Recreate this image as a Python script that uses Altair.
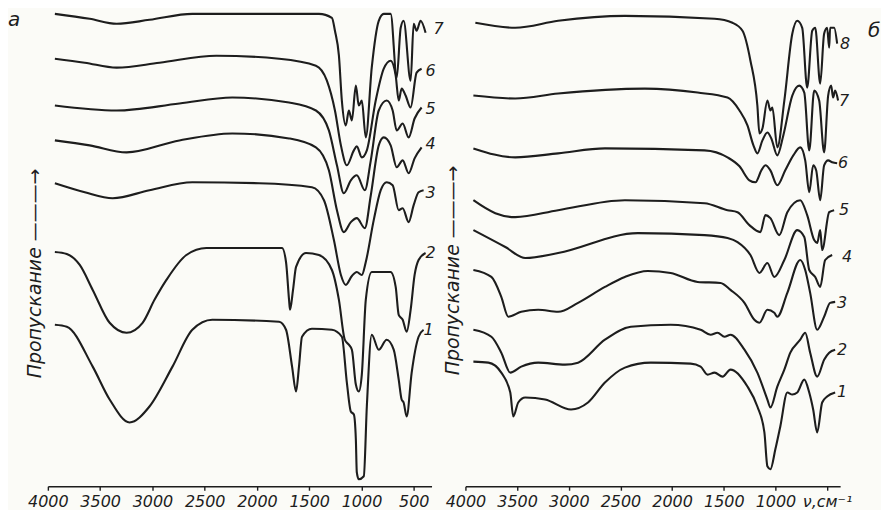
import altair as alt
import pandas as pd

INK = "#1d1d1d"
FONT = "DejaVu Sans"
XTICKS = [4000, 3500, 3000, 2500, 2000, 1500, 1000, 500]
YMAX = 479

# ---------- panel а : (wavenumber cm-1, transmittance level, arbitrary units) ----------
A7 = [(3933, 474), (3600, 469), (3342, 464), (3028, 468), (2618, 474), (1788, 474), (1407, 474),
      (1283, 470), (1254, 457), (1216, 432), (1188, 387), (1150, 362), (1121, 377), (1092, 367),
      (1054, 402), (1026, 382), (997, 387), (959, 350), (902, 420), (835, 467), (787, 474),
      (721, 474), (663, 410), (625, 460), (597, 467), (530, 407), (501, 464), (473, 457),
      (435, 467), (387, 455)]
A6 = [(3933, 429), (3647, 425), (3342, 420), (2932, 425), (2389, 432), (1788, 429), (1436, 422),
      (1331, 407), (1254, 377), (1197, 342), (1140, 322), (1073, 337), (1045, 341), (997, 330),
      (949, 337), (864, 387), (787, 419), (721, 427), (673, 412), (644, 387), (616, 399),
      (578, 392), (530, 380), (473, 415), (425, 419)]
A5 = [(3933, 382), (3342, 377), (2742, 384), (2236, 390), (1693, 385), (1436, 377), (1312, 357),
      (1235, 322), (1169, 294), (1102, 307), (1045, 312), (968, 297), (911, 327), (835, 377),
      (759, 387), (702, 377), (663, 357), (606, 364), (549, 350), (492, 369), (425, 380)]
A4 = [(3933, 347), (3600, 342), (3247, 335), (2742, 347), (2236, 354), (1693, 349), (1436, 340),
      (1312, 317), (1235, 277), (1169, 255), (1102, 265), (1045, 269), (968, 259), (911, 292),
      (835, 342), (787, 350), (721, 342), (663, 320), (606, 327), (549, 314), (492, 329), (425, 340)]
A3 = [(3933, 304), (3647, 295), (3380, 289), (3028, 297), (2618, 305), (1979, 304), (1474, 300),
      (1359, 287), (1264, 247), (1197, 212), (1150, 202), (1092, 211), (1045, 215), (997, 212),
      (959, 225), (883, 267), (816, 297), (759, 305), (702, 302), (644, 277), (606, 279),
      (549, 265), (501, 282), (454, 295), (406, 297)]
A2 = [(3933, 235), (3819, 233), (3695, 222), (3571, 197), (3409, 164), (3247, 154), (3094, 164),
      (2980, 187), (2866, 207), (2675, 232), (2484, 239), (1760, 239), (1722, 225), (1693, 187),
      (1684, 177), (1655, 197), (1626, 220), (1531, 234), (1407, 232), (1283, 217), (1216, 187),
      (1160, 147), (1121, 142), (1092, 137), (1054, 102), (1026, 95), (997, 112), (959, 187),
      (902, 215), (787, 215), (721, 215), (673, 200), (644, 172), (606, 167), (568, 155),
      (530, 177), (492, 212), (454, 227), (387, 234)]
A1 = [(3933, 162), (3819, 160), (3571, 120), (3409, 87), (3218, 64), (3028, 80), (2808, 120),
      (2618, 157), (2427, 167), (1788, 165), (1722, 157), (1664, 120), (1626, 95), (1598, 120),
      (1569, 150), (1474, 158), (1283, 157), (1188, 150), (1140, 104), (1102, 75), (1073, 72),
      (1054, 47), (1045, 14), (1026, 7), (978, 10), (949, 80), (902, 152), (835, 137), (759, 147),
      (692, 137), (644, 107), (616, 87), (597, 84), (568, 70), (520, 114), (454, 150), (406, 157)]
A_LABELS = ["1", "2", "3", "4", "5", "6", "7"]
A_LABEL_NU = [358, 339, 339, 339, 339, 339, 263]
A_LABEL_V = [157, 234, 294, 343, 379, 417, 459]

# ---------- panel б ----------
B8 = [(3904, 465), (3518, 460), (3103, 467), (2457, 472), (1589, 469), (1416, 465), (1319, 457),
      (1242, 427), (1175, 382), (1155, 354), (1126, 359), (1078, 387), (1049, 377), (1030, 380),
      (982, 340), (914, 387), (837, 454), (789, 467), (741, 460), (693, 400), (644, 457),
      (615, 460), (567, 404), (529, 454), (500, 460), (480, 440), (471, 460), (432, 460), (403, 444)]
B7 = [(3923, 392), (3518, 389), (3103, 394), (2264, 399), (1753, 395), (1464, 390), (1348, 377),
      (1271, 362), (1213, 342), (1175, 334), (1126, 347), (1078, 355), (1040, 349), (982, 332),
      (924, 352), (837, 392), (770, 402), (721, 395), (673, 337), (625, 397), (577, 387),
      (529, 335), (490, 392), (461, 402), (442, 390), (422, 397), (394, 387)]
B6 = [(3923, 339), (3518, 330), (3103, 334), (2650, 339), (1686, 337), (1464, 330), (1348, 321),
      (1252, 307), (1194, 305), (1136, 317), (1097, 322), (1049, 317), (982, 302), (905, 317),
      (827, 332), (760, 340), (712, 327), (673, 295), (635, 322), (606, 317), (567, 287),
      (529, 322), (490, 327), (451, 325), (403, 324)]
B5 = [(3923, 287), (3711, 274), (3518, 270), (3103, 277), (2457, 287), (1686, 284), (1464, 277),
      (1367, 275), (1252, 262), (1146, 255), (1097, 272), (1049, 269), (963, 252), (885, 275),
      (760, 287), (693, 272), (625, 247), (596, 244), (567, 257), (548, 237), (480, 275), (432, 277)]
B4 = [(3923, 257), (3614, 240), (3421, 229), (3103, 234), (2332, 254), (1686, 252), (1464, 249),
      (1367, 245), (1242, 232), (1155, 214), (1078, 224), (1011, 210), (914, 227), (789, 257),
      (721, 250), (673, 217), (615, 210), (567, 200), (519, 227), (451, 232)]
B3 = [(3923, 217), (3749, 210), (3653, 190), (3585, 170), (3460, 175), (3296, 177), (3103, 175),
      (2910, 184), (2650, 200), (2457, 210), (2235, 216), (2014, 214), (1753, 205), (1531, 204),
      (1435, 197), (1300, 184), (1204, 167), (1155, 164), (1078, 177), (1011, 174), (982, 170),
      (885, 194), (760, 227), (712, 217), (664, 194), (596, 157), (529, 170), (471, 184), (422, 185)]
B2 = [(3923, 157), (3749, 150), (3653, 134), (3566, 114), (3460, 120), (3296, 124), (3036, 122),
      (2910, 124), (2650, 147), (2399, 160), (2014, 162), (1724, 157), (1628, 152), (1560, 154),
      (1493, 150), (1435, 152), (1300, 137), (1175, 114), (1078, 87), (1049, 79), (982, 100),
      (914, 117), (856, 134), (760, 147), (712, 154), (664, 134), (596, 110), (529, 127),
      (480, 134), (422, 137)]
B1 = [(3923, 125), (3778, 124), (3653, 114), (3566, 94), (3537, 70), (3489, 84), (3421, 89),
      (3229, 87), (2978, 77), (2814, 84), (2650, 104), (2457, 119), (2206, 124), (1821, 123),
      (1724, 120), (1657, 112), (1589, 114), (1512, 110), (1435, 117), (1271, 100), (1175, 80),
      (1107, 54), (1078, 20), (1049, 17), (1001, 37), (953, 60), (885, 94), (837, 92), (789, 94),
      (721, 107), (673, 94), (635, 77), (596, 54), (548, 84), (500, 90), (422, 94)]
B_LABELS = ["1", "2", "3", "4", "5", "6", "7", "8"]
B_LABEL_NU = [355, 355, 355, 307, 336, 345, 336, 326]
B_LABEL_V = [95, 137, 184, 230, 277, 324, 387, 444]

TITLE = "Пропускание ———→"


def curves_df(curves):
    rows = []
    for name, pts in curves.items():
        for i, (nu, v) in enumerate(pts):
            rows.append({"curve": name, "nu": nu, "v": v, "i": i})
    return pd.DataFrame(rows)


def panel(curves, labs, lab_nu, lab_v, domain, width, letter, letter_x, letter_y, title_y, label_expr):
    axis_kw = dict(values=XTICKS, format="d", title=None, grid=False, domainColor=INK,
                   domainWidth=1.6, tickColor=INK, tickSize=4, tickWidth=1.4, labelFont=FONT,
                   labelFontStyle="italic", labelFontSize=16, labelColor=INK, labelPadding=3,
                   labelFlush=False, labelOverlap=False)
    if label_expr:
        axis_kw["labelExpr"] = label_expr
    x = alt.X("nu:Q", scale=alt.Scale(domain=domain, nice=False, zero=False), axis=alt.Axis(**axis_kw))
    y = alt.Y("v:Q", scale=alt.Scale(domain=[0, YMAX], nice=False, zero=False),
              axis=alt.Axis(title=TITLE, labels=False, ticks=False, domain=False, grid=False,
                            titleX=-13, titleY=title_y, titleAngle=270, titleAlign="center",
                            titleBaseline="middle", titleFont=FONT, titleFontStyle="italic",
                            titleFontWeight="normal", titleFontSize=19, titleColor=INK))
    lines = alt.Chart(curves_df(curves)).mark_line(
        color=INK, strokeWidth=2.1, interpolate="monotone", clip=False
    ).encode(x=x, y=y, detail="curve:N", order="i:Q")
    lab_df = pd.DataFrame({"lab": labs, "nu": lab_nu, "v": lab_v})
    labels = alt.Chart(lab_df).mark_text(
        font=FONT, fontStyle="italic", fontSize=16, color=INK
    ).encode(x="nu:Q", y="v:Q", text="lab:N")
    let = alt.Chart(pd.DataFrame({"t": [letter]})).mark_text(
        font=FONT, fontStyle="italic", fontSize=20, color=INK, align="left", baseline="middle"
    ).encode(x=alt.value(letter_x), y=alt.value(letter_y), text="t:N")
    return alt.layer(lines, labels, let).properties(width=width, height=YMAX)


left = panel({"1": A1, "2": A2, "3": A3, "4": A4, "5": A5, "6": A6, "7": A7},
             A_LABELS, A_LABEL_NU, A_LABEL_V, [4000, 330], 385, "а", -40, 11, 265, None)
right = panel({"1": B1, "2": B2, "3": B3, "4": B4, "5": B5, "6": B6, "7": B7, "8": B8},
              B_LABELS, B_LABEL_NU, B_LABEL_V, [4000, 374], 376, "б", 404, 22, 262,
              "datum.value == 500 ? 'ν,см⁻¹' : datum.label")

chart = alt.hconcat(left, right, spacing=34, bounds="flush").properties(
    background="#fbfbf7", padding={"left": 0, "top": 0, "right": 0, "bottom": 0}
).configure_view(stroke=None).configure_axis(labelFontStyle="italic", titleFontStyle="italic")

chart.save("out.html", embed_options={"renderer": "svg", "actions": False})
